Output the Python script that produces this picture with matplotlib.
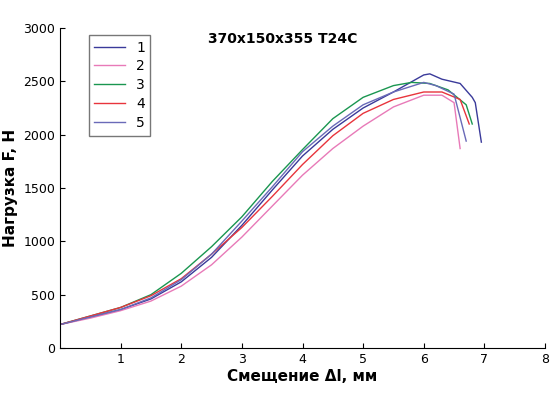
import matplotlib
matplotlib.use("Agg")
import matplotlib.pyplot as plt

# displacement (mm) and load (N) for the five specimens
x1 = [0, 0.5, 1, 1.5, 2, 2.5, 3, 3.5, 4, 4.5, 5, 5.5, 6, 6.1, 6.3, 6.6, 6.8, 6.85, 6.95]
y1 = [220, 290, 360, 460, 620, 850, 1150, 1480, 1800, 2050, 2250, 2400, 2560, 2570, 2520, 2480, 2350, 2300, 1930]
x2 = [0, 0.5, 1, 1.5, 2, 2.5, 3, 3.5, 4, 4.5, 5, 5.5, 6, 6.3, 6.5, 6.6]
y2 = [220, 280, 350, 440, 580, 780, 1040, 1330, 1620, 1870, 2080, 2260, 2370, 2370, 2300, 1870]
x3 = [0, 0.5, 1, 1.5, 2, 2.5, 3, 3.5, 4, 4.5, 5, 5.5, 5.8, 6.1, 6.4, 6.7, 6.8]
y3 = [220, 300, 380, 500, 700, 950, 1230, 1560, 1860, 2150, 2350, 2460, 2490, 2480, 2420, 2280, 2100]
x4 = [0, 0.5, 1, 1.5, 2, 2.5, 3, 3.5, 4, 4.5, 5, 5.5, 6, 6.3, 6.6, 6.75]
y4 = [220, 300, 380, 490, 650, 880, 1130, 1420, 1720, 1990, 2200, 2330, 2400, 2400, 2330, 2100]
x5 = [0, 0.5, 1, 1.5, 2, 2.5, 3, 3.5, 4, 4.5, 5, 5.5, 6, 6.2, 6.5, 6.7]
y5 = [220, 290, 360, 470, 640, 880, 1190, 1510, 1840, 2080, 2280, 2400, 2490, 2460, 2380, 1940]
labels = ["1", "2", "3", "4", "5"]
colors = ["#3a3a9a", "#e87ab8", "#1a9650", "#e8343c", "#6a6ab8"]

fig = plt.figure(figsize=(5.5, 4.08), dpi=100)
ax = fig.add_axes([60/550, 60/408, 485/550, 320/408])

for xs, ys, lab, c in zip([x1, x2, x3, x4, x5], [y1, y2, y3, y4, y5], labels, colors):
    ax.plot(xs, ys, color=c, lw=1, label=lab)

ax.set_xlim(0, 8)
ax.set_ylim(0, 3000)
ax.set_xticks([1, 2, 3, 4, 5, 6, 7, 8])
ax.set_yticks(range(0, 3001, 500))
ax.tick_params(direction="in", labelsize=9)
ax.spines["top"].set_visible(False)
ax.spines["right"].set_visible(False)
ax.set_xlabel("Смещение \u0394l, мм", fontsize=11, fontweight="bold", labelpad=2)
ax.set_ylabel("Нагрузка F, Н", fontsize=11, fontweight="bold")
ax.text(3.68, 2860, "370x150x355 T24C", fontsize=10, fontweight="bold", ha="center")
leg = ax.legend(loc="upper left", bbox_to_anchor=(0.045, 1.0), fontsize=10,
                handlelength=2.2, fancybox=False, edgecolor="#555555", borderpad=0.4, labelspacing=0.35)

fig.savefig("out.png", dpi=100)
